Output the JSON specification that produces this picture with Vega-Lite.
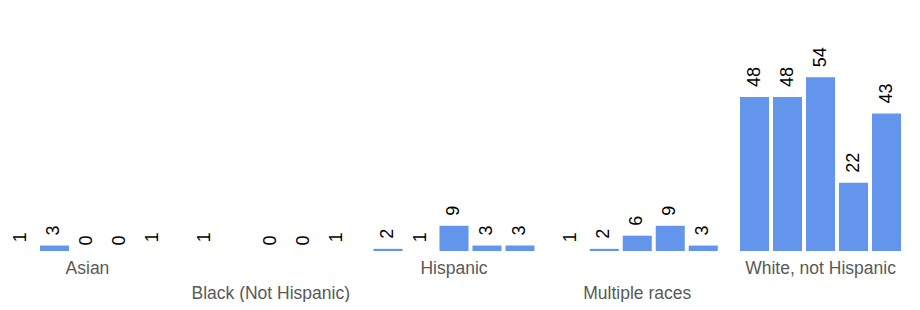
{
  "$schema": "https://vega.github.io/schema/vega-lite/v6.json",
  "width": 908,
  "height": 210,
  "padding": {"left": 0, "top": 41, "right": 12, "bottom": 0},
  "autosize": {"type": "pad"},
  "config": {"view": {"stroke": null}, "font": "Liberation Sans"},
  "data": {
    "values": [
      {"race": "Asian", "year": "2019", "value": 1},
      {"race": "Asian", "year": "2020", "value": 3},
      {"race": "Asian", "year": "2021", "value": 0},
      {"race": "Asian", "year": "2022", "value": 0},
      {"race": "Asian", "year": "2023", "value": 1},
      {"race": "Black (Not Hispanic)", "year": "2019", "value": 1},
      {"race": "Black (Not Hispanic)", "year": "2021", "value": 0},
      {"race": "Black (Not Hispanic)", "year": "2022", "value": 0},
      {"race": "Black (Not Hispanic)", "year": "2023", "value": 1},
      {"race": "Hispanic", "year": "2019", "value": 2},
      {"race": "Hispanic", "year": "2020", "value": 1},
      {"race": "Hispanic", "year": "2021", "value": 9},
      {"race": "Hispanic", "year": "2022", "value": 3},
      {"race": "Hispanic", "year": "2023", "value": 3},
      {"race": "Multiple races", "year": "2019", "value": 1},
      {"race": "Multiple races", "year": "2020", "value": 2},
      {"race": "Multiple races", "year": "2021", "value": 6},
      {"race": "Multiple races", "year": "2022", "value": 9},
      {"race": "Multiple races", "year": "2023", "value": 3},
      {"race": "White, not Hispanic", "year": "2019", "value": 48},
      {"race": "White, not Hispanic", "year": "2020", "value": 48},
      {"race": "White, not Hispanic", "year": "2021", "value": 54},
      {"race": "White, not Hispanic", "year": "2022", "value": 22},
      {"race": "White, not Hispanic", "year": "2023", "value": 43}
    ]
  },
  "encoding": {
    "x": {
      "field": "race",
      "type": "nominal",
      "sort": ["Asian", "Black (Not Hispanic)", "Hispanic", "Multiple races", "White, not Hispanic"],
      "scale": {"paddingInner": 0.1214, "paddingOuter": 0.038},
      "axis": {
        "title": null,
        "domain": false,
        "ticks": false,
        "labelAngle": 0,
        "labelFontSize": 17.5,
        "labelColor": "#595959",
        "labelFont": "Liberation Sans",
        "labelPadding": {"condition": {"test": "round(datum.index * 4) % 2 == 1", "value": 33}, "value": 8}
      }
    },
    "xOffset": {
      "field": "year",
      "type": "nominal",
      "sort": ["2019", "2020", "2021", "2022", "2023"],
      "scale": {"paddingInner": 0.12, "paddingOuter": 0}
    },
    "y": {
      "field": "value",
      "type": "quantitative",
      "scale": {"domain": [1.35, 65], "zero": false, "nice": false},
      "axis": null
    }
  },
  "layer": [
    {"mark": {"type": "bar", "color": "#6495ED", "clip": true}},
    {
      "mark": {"type": "text", "angle": 270, "align": "left", "baseline": "middle", "dx": 10, "fontSize": 18, "color": "#000000"},
      "encoding": {"text": {"field": "value", "type": "quantitative"}}
    }
  ]
}
